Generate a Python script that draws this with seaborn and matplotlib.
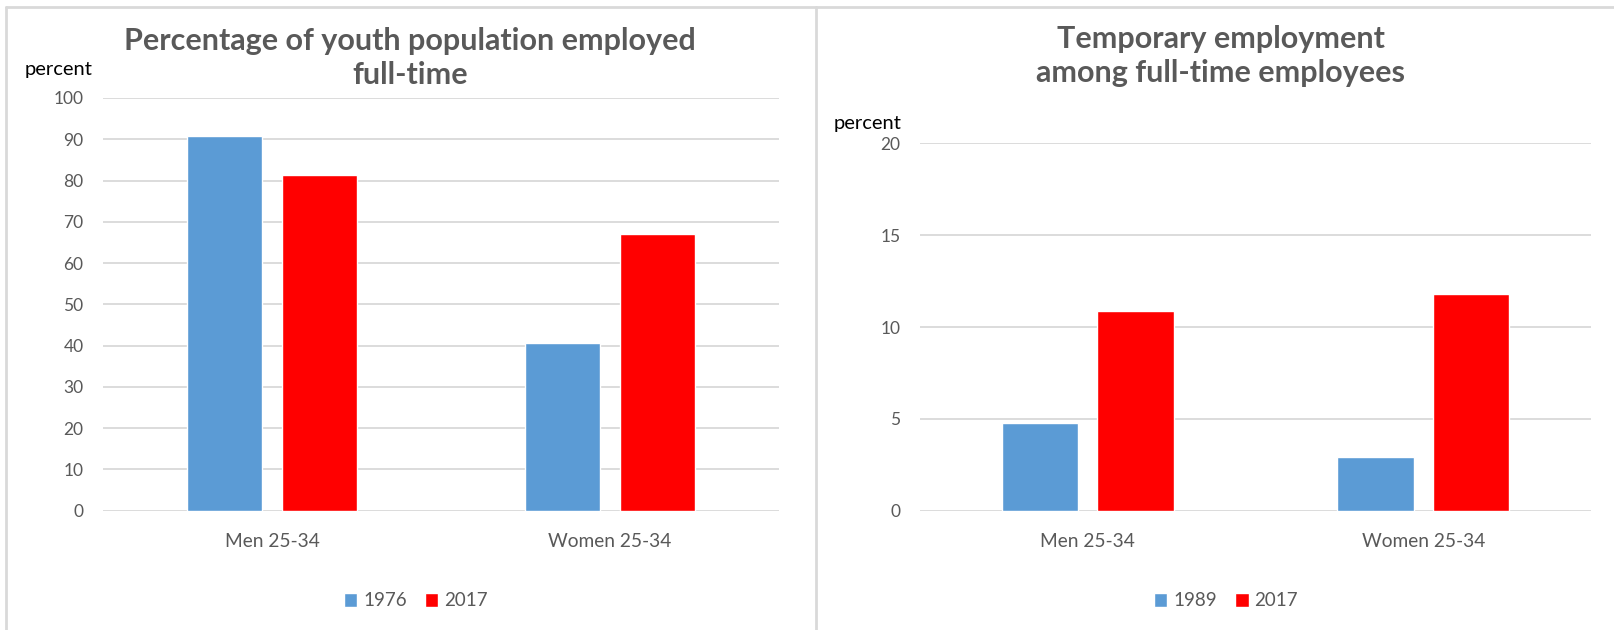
#!/usr/bin/env python3

import pandas as pd
import seaborn as sns
import matplotlib.pyplot as plt
from matplotlib.lines import Line2D
from matplotlib.patches import Patch

# data
groups = ['Men 25-34', 'Women 25-34']

ft_years = ['1976', '2017']
ft_1976 = [90.7, 40.7]
ft_2017 = [81.3, 67.1]

temp_years = ['1989', '2017']
temp_1989 = [4.8, 2.9]
temp_2017 = [10.9, 11.8]

BLUE = '#5B9BD5'
RED = '#FF0000'
GRAY = '#595959'
GRID = '#D9D9D9'

sns.set_style('white')
plt.rcParams['font.family'] = ['Lato', 'DejaVu Sans']

W, H = 1614, 630
fig = plt.figure(figsize=(W / 100, H / 100), dpi=100)


def px(x0, y_top, x1, y_bot):
    # pixel box -> figure fraction rect
    return [x0 / W, 1 - y_bot / H, (x1 - x0) / W, (y_bot - y_top) / H]


def panel(ax, years, first, second, ymax, step, width, gap):
    df = pd.DataFrame({
        'group': groups * 2,
        'year': [years[0]] * 2 + [years[1]] * 2,
        'value': first + second,
    })
    sns.barplot(data=df, x='group', y='value', hue='year', ax=ax,
                palette=[BLUE, RED], width=width, gap=gap,
                saturation=1, legend=False)
    ax.set_ylim(0, ymax)
    ax.set_yticks(range(0, ymax + 1, step))
    ax.set_xlim(-0.5, 1.5)
    ax.yaxis.grid(True, color=GRID, linewidth=1.3)
    ax.set_axisbelow(True)
    sns.despine(ax=ax, left=True, bottom=True)
    ax.set_xlabel('')
    ax.set_ylabel('')
    ax.tick_params(axis='y', length=0, pad=14, labelsize=12.5, labelcolor=GRAY)
    ax.tick_params(axis='x', length=0, pad=16, labelsize=13.8, labelcolor=GRAY)
    handles = [Patch(facecolor=BLUE), Patch(facecolor=RED)]
    return handles


ax1 = fig.add_axes(px(103, 98, 779, 510.7))
h1 = panel(ax1, ft_years, ft_1976, ft_2017, 100, 10, 0.565, 0.215)
ax1.legend(h1, ft_years, loc='center', bbox_to_anchor=(416 / W, 1 - 601 / H),
           bbox_transform=fig.transFigure, ncol=2, frameon=False,
           fontsize=13.5, labelcolor=GRAY, handlelength=0.7, handleheight=0.7,
           handletextpad=0.3, columnspacing=1.0)

ax2 = fig.add_axes(px(920, 143.4, 1591, 510.7))
h2 = panel(ax2, temp_years, temp_1989, temp_2017, 20, 5, 0.57, 0.2)
ax2.legend(h2, temp_years, loc='center', bbox_to_anchor=(1226 / W, 1 - 601 / H),
           bbox_transform=fig.transFigure, ncol=2, frameon=False,
           fontsize=13.5, labelcolor=GRAY, handlelength=0.7, handleheight=0.7,
           handletextpad=0.3, columnspacing=1.0)

# titles and unit labels
fig.text(410 / W, 1 - 58 / H, 'Percentage of youth population employed\nfull-time',
         ha='center', va='center', fontsize=22, fontweight='bold',
         color=GRAY, linespacing=1.25)
fig.text(1221 / W, 1 - 56 / H, 'Temporary employment\namong full-time employees',
         ha='center', va='center', fontsize=22, fontweight='bold',
         color=GRAY, linespacing=1.25)
fig.text(59 / W, 1 - 70 / H, 'percent', ha='center', va='center',
         fontsize=14.5, color='black')
fig.text(868 / W, 1 - 123 / H, 'percent', ha='center', va='center',
         fontsize=14.5, color='black')

# chart box borders
for xs, ys in [((6 / W, 1), (1 - 7 / H, 1 - 7 / H)),
               ((6.5 / W, 6.5 / W), (0, 1 - 7 / H)),
               ((816 / W, 816 / W), (0, 1 - 7 / H))]:
    fig.add_artist(Line2D(xs, ys, transform=fig.transFigure,
                          color=GRID, linewidth=2))

fig.savefig('out.png', dpi=100)
